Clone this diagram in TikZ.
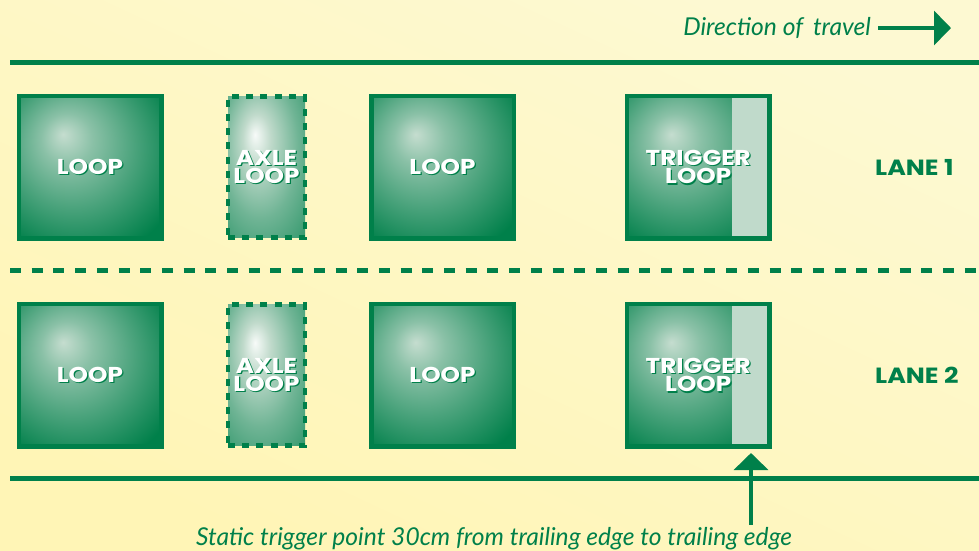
\documentclass[tikz,border=0pt]{standalone}
\usepackage{fontspec}
\setmainfont{Lato}
\newfontfamily\capsfont{Poppins}[FakeStretch=1.15]
\usepackage{xcolor}
\usetikzlibrary{arrows.meta, positioning}
\definecolor{roadgreen}{HTML}{00804A}
\definecolor{panelgreen}{HTML}{C0DACB}
\definecolor{paperlight}{HTML}{FDF9D2}
\definecolor{paperdeep}{HTML}{FFF5B6}
\pgfdeclareradialshading{loopglow}{\pgfpoint{-9.5bp}{11.5bp}}{color(0bp)=(panelgreen!92!white); color(9bp)=(panelgreen!72!roadgreen); color(22bp)=(roadgreen!62!panelgreen); color(37bp)=(roadgreen); color(60bp)=(roadgreen)}
\pgfdeclareradialshading{axleglow}{\pgfpoint{-7.5bp}{11.5bp}}{color(0bp)=(white!88!panelgreen); color(9bp)=(panelgreen); color(25bp)=(roadgreen!42!panelgreen); color(40bp)=(roadgreen!72!panelgreen); color(60bp)=(roadgreen!72!panelgreen)}
\tikzstyle{loopbox} = [rectangle, minimum width=142.5pt, minimum height=142.5pt, outer sep=0pt, inner sep=0pt, draw=roadgreen, line width=4.5pt, shading=loopglow]
\tikzstyle{axlebox} = [rectangle, minimum width=77pt, minimum height=141pt, outer sep=0pt, inner sep=0pt, draw=roadgreen, line width=4.5pt, dash pattern=on 7pt off 7.2pt, shading=axleglow]
\tikzstyle{panel} = [rectangle, minimum width=35pt, minimum height=138pt, outer sep=0pt, inner sep=0pt, fill=panelgreen]
\tikzstyle{looptxt} = [text=white, font=\capsfont\fontsize{21.5}{18.5}\selectfont\bfseries, align=center, inner sep=0pt]
\tikzstyle{castshadow} = [looptxt, text=roadgreen]
\tikzstyle{lanetxt} = [text=roadgreen, font=\capsfont\fontsize{22}{24}\selectfont\bfseries, inner sep=0pt]
\tikzstyle{notetxt} = [text=roadgreen, font=\fontsize{24.6}{28}\selectfont\itshape, inner sep=0pt]
\tikzstyle{roadline} = [draw=roadgreen, line width=5pt]
\tikzstyle{arrow} = [draw=roadgreen, line width=3.5pt, -{Triangle[length=17pt,width=34pt]}]
\newcommand{\looplabel}[2]{
    \node [castshadow] at ([xshift=1.2pt,yshift=-1.2pt]#1) {#2};
    \node [looptxt] at (#1) {#2};
}

\begin{document}
\begin{tikzpicture}
    \useasboundingbox (0,0) rectangle (979pt,-550pt);
    \shade [bottom color=paperdeep, top color=paperlight, shading angle=-25] (0,0) rectangle (979pt,-550pt);

    \coordinate (roadL) at (10pt,-62pt);
    \coordinate (roadR) at (979pt,-62pt);
    \coordinate (midL) at (10pt,-270.7pt);
    \coordinate (midR) at (979pt,-270.7pt);
    \coordinate (kerbL) at (10pt,-478.7pt);
    \coordinate (kerbR) at (979pt,-478.7pt);
    \draw [roadline] (roadL) -- (roadR);
    \draw [roadline, line width=4.5pt, dash pattern=on 11pt off 10.7pt] (midL) -- (midR);
    \draw [roadline] (kerbL) -- (kerbR);

    \node (loop1) [loopbox] at (90pt,-167pt) {};
    \node (axle1) [axlebox, right=66.75pt of loop1] {};
    \node (loopb1) [loopbox, right=66.25pt of axle1] {};
    \node (trig1) [loopbox, right=113.25pt of loopb1] {};
    \node (panel1) [panel, anchor=east] at ([xshift=-2.25pt]trig1.east) {};

    \node (loop2) [loopbox, below=65.5pt of loop1] {};
    \node (axle2) [axlebox, below=67pt of axle1] {};
    \node (loopb2) [loopbox, below=65.5pt of loopb1] {};
    \node (trig2) [loopbox, below=65.5pt of trig1] {};
    \node (panel2) [panel, anchor=east] at ([xshift=-2.25pt]trig2.east) {};

    \looplabel{loop1}{LOOP}
    \looplabel{axle1}{AXLE\\LOOP}
    \looplabel{loopb1}{LOOP}
    \looplabel{trig1}{TRIGGER\\LOOP}
    \looplabel{loop2}{LOOP}
    \looplabel{axle2}{AXLE\\LOOP}
    \looplabel{loopb2}{LOOP}
    \looplabel{trig2}{TRIGGER\\LOOP}

    \node (lane1) [lanetxt, anchor=west] at (875pt,-167pt) {LANE 1};
    \node (lane2) [lanetxt, anchor=west] at (875pt,-375pt) {LANE 2};

    \node (dir) [notetxt, anchor=base east] at (871pt,-35pt) {Direction of\, travel};
    \coordinate (dirtip) at (951pt,-28pt);
    \coordinate (dirtail) at (878pt,-28pt);
    \draw [arrow] (dirtail) -- (dirtip);

    \node (note) [notetxt, anchor=base] at (494pt,-545pt) {Static trigger point 30cm from trailing edge to trailing edge};
    \coordinate (notetail) at (751pt,-525pt);
    \coordinate (notetip) at (751pt,-453pt);
    \draw [arrow] (notetail) -- (notetip);
\end{tikzpicture}
\end{document}
